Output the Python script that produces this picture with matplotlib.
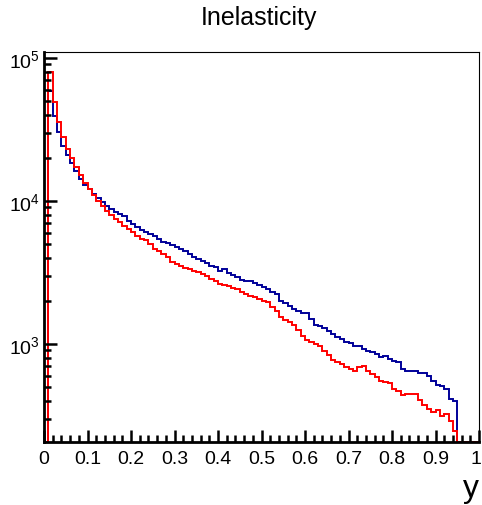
import matplotlib
matplotlib.use('Agg')
import matplotlib.pyplot as plt
import matplotlib.transforms as mtransforms
import numpy as np
from matplotlib.ticker import MultipleLocator, LogLocator, NullFormatter

plt.rcParams['font.family'] = ['Liberation Sans', 'DejaVu Sans']

# 100 bins of width 0.01 on [0, 1]
edges = np.linspace(0, 1, 101)

blue = [0,
        58700, 39300, 30400, 24200, 21000, 18400, 16200, 14300, 12900, 12100,
        11200, 10500, 9840, 9230, 8790, 8380, 8110, 7850, 7240, 6900,
        6580, 6270, 6070, 5875, 5690, 5420, 5160, 5080, 4920, 4760,
        4610, 4470, 4260, 4060, 3930, 3800, 3680, 3510, 3450, 3240,
        3340, 3140, 3040, 2940, 2800, 2760, 2760, 2670, 2590, 2510,
        2430, 2310, 2240, 2000, 1940, 1845, 1760, 1700, 1650, 1650,
        1500, 1360, 1340, 1295, 1235, 1175, 1120, 1085, 1030, 1015,
        968, 968, 923, 893, 879, 851, 811, 824, 785, 760,
        748, 668, 647, 647, 647, 627, 627, 597, 551, 516,
        508, 484, 412, 399, 0, 0, 0, 0, 0]

red = [0,
       79800, 49200, 35700, 28030, 23100, 20000, 17290, 15200, 13360, 12100,
       11010, 10000, 9230, 8510, 7980, 7480, 7130, 6690, 6370, 6070,
       5690, 5420, 5340, 5000, 4610, 4470, 4260, 4060, 3740, 3620,
       3510, 3400, 3340, 3240, 3190, 3090, 2990, 2850, 2760, 2630,
       2590, 2550, 2470, 2430, 2310, 2240, 2170, 2130, 2070, 2000,
       1970, 1815, 1700, 1545, 1470, 1425, 1360, 1255, 1140, 1065,
       1030, 1000, 968, 893, 838, 773, 748, 725, 690, 668,
       647, 690, 701, 647, 617, 588, 551, 542, 533, 484,
       469, 440, 447, 447, 447, 406, 374, 351, 334, 345,
       314, 324, 290, 247, 0, 0, 0, 0, 0]

xlabels = ['0', '0.1', '0.2', '0.3', '0.4', '0.5', '0.6', '0.7', '0.8', '0.9', '1']

ymin, ymax = 206, 1.1e5

fig = plt.figure(figsize=(4.82, 5.06), dpi=100)
ax = fig.add_axes([44 / 482, 1 - 443 / 506, 435 / 482, 390 / 506])

# empty bins sit on the bottom frame, like ROOT does on a log pad
ax.stairs(np.maximum(blue, ymin), edges, color='#000099', linewidth=1.4)
ax.stairs(np.maximum(red, ymin), edges, color='#ff0000', linewidth=1.4)

ax.set_yscale('log')
ax.set_xlim(0, 1)
ax.set_ylim(ymin, ymax)

ax.set_xticks(np.arange(0, 1.01, 0.1))
ax.set_xticklabels(xlabels)
ax.xaxis.set_minor_locator(MultipleLocator(0.02))
ax.yaxis.set_major_locator(LogLocator(base=10))
ax.yaxis.set_minor_locator(LogLocator(base=10, subs=np.arange(2, 10)))
ax.yaxis.set_minor_formatter(NullFormatter())

ax.tick_params(which='both', direction='in', top=False, right=False,
               labelsize=14, width=1.8)
ax.tick_params(axis='x', which='major', length=9, pad=6)
ax.tick_params(axis='x', which='minor', length=5)
ax.tick_params(axis='y', which='major', length=9, pad=3)
ax.tick_params(axis='y', which='minor', length=5)

# nudge the last label so it stays inside the figure
last = ax.get_xticklabels()[-1]
last.set_transform(last.get_transform() + mtransforms.ScaledTranslation(-3 / 100, 0, fig.dpi_scale_trans))

for side in ['left', 'bottom']:
    ax.spines[side].set_linewidth(2)
for side in ['top', 'right']:
    ax.spines[side].set_linewidth(0.8)

fig.text(259 / 482, 1 - 18 / 506, 'Inelasticity', ha='center', va='center', fontsize=18)
fig.text(479 / 482, 1 - 489 / 506, 'y', ha='right', va='center', fontsize=23)

fig.savefig('out.png', dpi=100)
